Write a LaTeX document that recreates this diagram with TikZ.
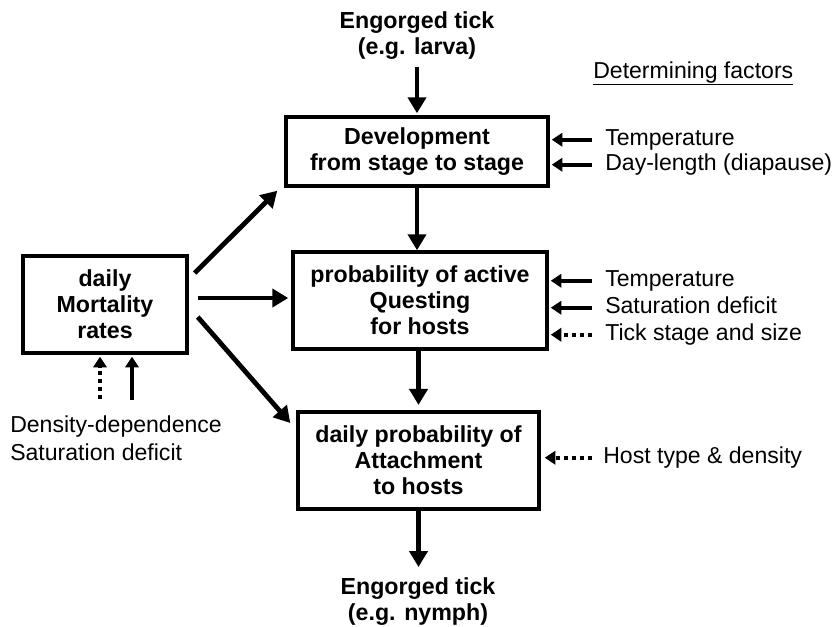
\documentclass[tikz,border=0pt]{standalone}
\usepackage{fontspec}
\setmainfont{Liberation Sans}
\usetikzlibrary{arrows.meta}

\begin{document}
\begin{tikzpicture}[x=0.75pt,y=-0.75pt,
    font=\fontsize{17.3}{19}\selectfont,
    stage/.style={draw, line width=2.6pt, align=center, inner sep=2pt,
        font=\fontsize{17.4}{19.5}\selectfont\bfseries},
    tick/.style={align=center, inner sep=0pt, font=\fontsize{17.4}{20}\selectfont\bfseries},
    factor/.style={anchor=base west, inner sep=0pt, text height=1.5ex, text depth=0pt},
    arr/.style={line width=3.6pt, -{Triangle[length=12pt,width=13.5pt]}},
    farr/.style={line width=3pt, -{Triangle[length=8pt,width=10pt]}, shorten >=1.5pt},
    darr/.style={farr, dash pattern=on 3pt off 3pt}]
    \useasboundingbox (0,0) rectangle (834,626);
    \node[stage, minimum width=196.5pt, minimum height=51.75pt] (dev) at (417,151.5) {Development\\from stage to stage};
    \node[stage, minimum width=190.5pt, minimum height=72.75pt] (quest) at (420,300.5) {probability of active\\Questing\\for hosts};
    \node[stage, minimum width=180.75pt, minimum height=72.75pt] (attach) at (418.5,460.5) {daily probability of\\Attachment\\to hosts};
    \node[stage, minimum width=123pt, minimum height=72.75pt] (mort) at (105,304.5) {daily\\Mortality\\rates};
    \node[tick, anchor=north] (larva) at (417,11) {Engorged tick\\(e.g. larva)};
    \node[tick, anchor=north] (nymph) at (418,577) {Engorged tick\\(e.g. nymph)};
    \draw[arr, shorten <=5pt, shorten >=1.5pt] (larva.south -| dev.north) -- (dev.north);
    \draw[arr] (dev.south) -- (dev.south |- quest.north);
    \draw[arr, shorten >=4pt] (attach.north |- quest.south) -- (attach.north);
    \draw[arr, shorten >=7.5pt] (attach.south) -- (attach.south |- nymph.north);
    \draw[arr] ([shift={(6,-31.5)}]mort.east) -- ([shift={(-7,3)}]dev.south west);
    \draw[arr] ([shift={(9,-6.5)}]mort.east) -- ([shift={(-3,-2.5)}]quest.west);
    \draw[arr] ([shift={(9,12.5)}]mort.east) -- ([shift={(-6,12.7)}]attach.north west);
    \node[factor] (head) at (593,78) {\underline{Determining factors}};
    \node[factor] (dtemp) at (605,145) {Temperature};
    \node[factor] (dday) at (605,170) {Day-length (diapause)};
    \node[factor] (qtemp) at (605,286) {Temperature};
    \node[factor] (qsat) at (605,313) {Saturation deficit};
    \node[factor] (qsize) at (605,340) {Tick stage and size};
    \node[factor] (ahost) at (603,463) {Host type \& density};
    \node[factor] (dens) at (10,432) {Density-dependence};
    \node[factor] (msat) at (10,460) {Saturation deficit};
    \draw[farr] ([xshift=-10pt]dtemp.west) -- (dtemp.west -| dev.east);
    \draw[farr] ([xshift=-10pt]dday.west) -- (dday.west -| dev.east);
    \draw[farr] ([xshift=-10pt]qtemp.west) -- (qtemp.west -| quest.east);
    \draw[farr] ([xshift=-10pt]qsat.west) -- (qsat.west -| quest.east);
    \draw[darr] ([xshift=-10pt]qsize.west) -- (qsize.west -| quest.east);
    \draw[darr, shorten >=3pt] ([xshift=-8pt]ahost.west) -- (ahost.west -| attach.east);
    \coordinate (ddep) at (100,399);
    \coordinate (dsat) at (132,400);
    \draw[darr] (ddep) -- (ddep |- mort.south);
    \draw[farr] (dsat) -- (dsat |- mort.south);
\end{tikzpicture}
\end{document}
